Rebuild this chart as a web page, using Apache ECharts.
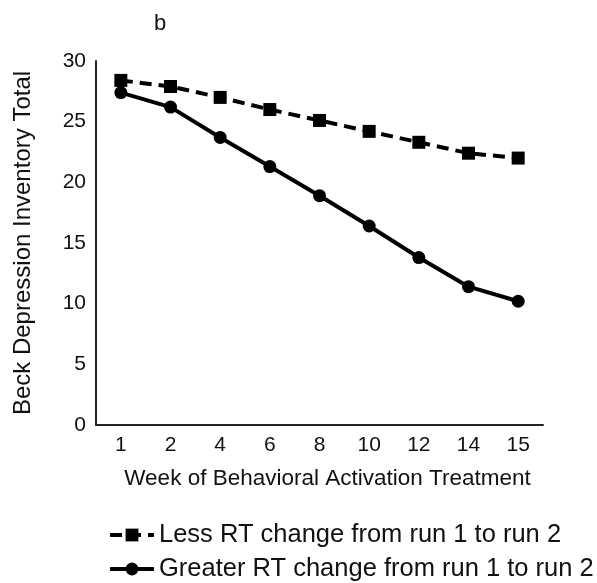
<!DOCTYPE html>
<html><head><meta charset="utf-8">
<script src="https://cdn.jsdelivr.net/npm/echarts@6/dist/echarts.min.js"></script>
<style>html,body{margin:0;padding:0;background:#fff}#c{width:597px;height:583px}</style>
</head><body><div id="c"></div>
<script>
const weeks = ['1','2','4','6','8','10','12','14','15'];
const lessRT = [28.4, 27.9, 27.0, 26.0, 25.1, 24.2, 23.3, 22.4, 22.0];
const greaterRT = [27.4, 26.2, 23.7, 21.3, 18.9, 16.4, 13.8, 11.4, 10.2];
const seriesNames = ['Less RT change from run 1 to run 2', 'Greater RT change from run 1 to run 2'];

const font = 'Liberation Sans, Arial, sans-serif';
const legendBase = {orient:'horizontal', left:103, itemWidth:44, itemHeight:16, itemTextGap:11,
  lineStyle:{width:4}, textStyle:{fontFamily:font, fontSize:25.5, color:'#111'}};
const chart = echarts.init(document.getElementById('c'), null, {renderer:'canvas'});
chart.setOption({
  animation:false,
  backgroundColor:'#fff',
  title:{text:'b', left:149, top:8, textStyle:{fontFamily:font, fontSize:22, fontWeight:'normal', color:'#111'}},
  grid:{left:96, right:54, top:61, bottom:158, outerBoundsMode:'none', containLabel:false},
  xAxis:{type:'category', data:weeks, boundaryGap:true,
    name:'Week of Behavioral Activation Treatment', nameLocation:'middle', nameGap:42,
    nameTextStyle:{fontFamily:font, fontSize:22.5, color:'#111', padding:[0,0,0,16]},
    axisLine:{lineStyle:{color:'#222', width:2}}, axisTick:{show:false},
    axisLabel:{fontFamily:font, fontSize:21, color:'#111', margin:10}},
  yAxis:{type:'value', min:0, max:30, interval:5,
    name:'Beck Depression Inventory Total', nameLocation:'middle', nameGap:61, nameRotate:90,
    nameTextStyle:{fontFamily:font, fontSize:24, color:'#111'},
    axisLine:{show:true, lineStyle:{color:'#222', width:2}}, axisTick:{show:false},
    splitLine:{show:false},
    axisLabel:{fontFamily:font, fontSize:21, color:'#111', margin:10}},
  legend:[
    Object.assign({}, legendBase, {top:517, data:[seriesNames[0]]}),
    Object.assign({}, legendBase, {top:551, data:[seriesNames[1]]})
  ],
  series:[
    {name:seriesNames[0], type:'line', data:lessRT, symbol:'rect', symbolSize:13,
      lineStyle:{color:'#000', width:4, type:[12,7]}, itemStyle:{color:'#000'}},
    {name:seriesNames[1], type:'line', data:greaterRT, symbol:'circle', symbolSize:13,
      lineStyle:{color:'#000', width:4}, itemStyle:{color:'#000'}}
  ]
});
</script></body></html>
